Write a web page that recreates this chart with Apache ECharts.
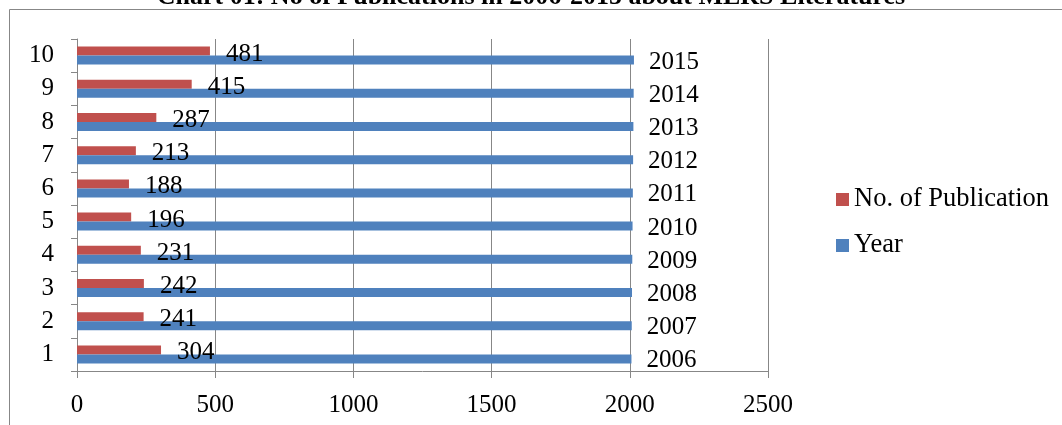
<!DOCTYPE html>
<html>
<head>
<meta charset="utf-8">
<script src="https://cdn.jsdelivr.net/npm/echarts@6/dist/echarts.min.js"></script>
<style>
html,body{margin:0;padding:0;background:#fff;}
#chart{width:1062px;height:425px;}
</style>
</head>
<body>
<div id="chart"></div>
<script>
const titleText = 'Chart 01: No of Publications in 2006-2015 about MERS Literatures';
const categories = ['1','2','3','4','5','6','7','8','9','10'];
const years = [2006, 2007, 2008, 2009, 2010, 2011, 2012, 2013, 2014, 2015];
const publications = [304, 241, 242, 231, 196, 188, 213, 287, 415, 481];
const xTicks = { min: 0, max: 2500, interval: 500 };

const FONT = "'Liberation Serif', 'Times New Roman', serif";
const GRAY = '#878787';

const chart = echarts.init(document.getElementById('chart'), null, { renderer: 'canvas' });
chart.setOption({
  animation: false,
  backgroundColor: '#fff',
  title: {
    text: titleText,
    left: 'center',
    top: -16,
    padding: 0,
    textStyle: { fontFamily: FONT, fontSize: 26, fontWeight: 'bold', color: '#000' }
  },
  graphic: [{
    type: 'rect',
    shape: { x: 9.5, y: 9.5, width: 1200, height: 600 },
    style: { fill: 'none', stroke: GRAY, lineWidth: 1 },
    silent: true
  }],
  legend: {
    orient: 'vertical',
    left: 836,
    top: 186,
    padding: 0,
    itemWidth: 13,
    itemHeight: 13,
    itemGap: 19,
    icon: 'rect',
    data: ['No. of Publication', 'Year'],
    textStyle: { fontFamily: FONT, fontSize: 26.5, color: '#000', lineHeight: 26 }
  },
  grid: { left: 77, right: 294, top: 39, bottom: 54, containLabel: false },
  xAxis: {
    type: 'value',
    min: xTicks.min, max: xTicks.max, interval: xTicks.interval,
    axisLine: { show: true, lineStyle: { color: GRAY, width: 1 } },
    axisTick: { show: true, length: 7, lineStyle: { color: GRAY } },
    splitLine: { show: true, lineStyle: { color: GRAY, width: 1 } },
    axisLabel: { fontFamily: FONT, fontSize: 25, color: '#000', margin: 22, formatter: v => String(v) }
  },
  yAxis: {
    type: 'category',
    data: categories,
    axisLine: { show: true, lineStyle: { color: GRAY, width: 1 } },
    axisTick: { show: true, length: 6, lineStyle: { color: GRAY } },
    axisLabel: { fontFamily: FONT, fontSize: 25, color: '#000', margin: 23, padding: [3, 0, 0, 0] }
  },
  series: [
    {
      name: 'No. of Publication',
      type: 'bar',
      data: publications,
      barWidth: 9,
      barGap: '0%',
      itemStyle: { color: '#C0504D' },
      label: { show: true, position: 'right', distance: 16, offset: [0, 3], fontFamily: FONT, fontSize: 25, color: '#000' }
    },
    {
      name: 'Year',
      type: 'bar',
      data: years,
      barWidth: 9,
      barGap: '0%',
      itemStyle: { color: '#4F81BD' },
      label: { show: true, position: 'right', distance: 15, offset: [0, 2], fontFamily: FONT, fontSize: 25, color: '#000' }
    }
  ]
});
</script>
</body>
</html>
